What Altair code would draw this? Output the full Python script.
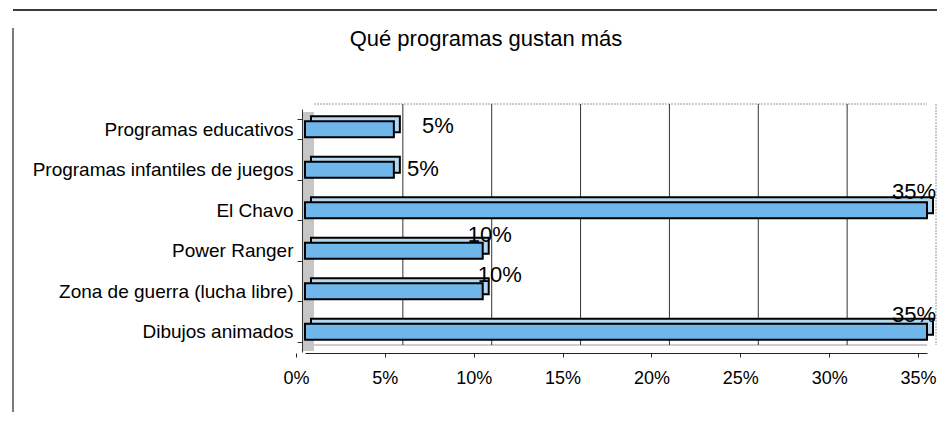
import altair as alt
import pandas as pd

# ---- data ----
categories = [
    "Programas educativos",
    "Programas infantiles de juegos",
    "El Chavo",
    "Power Ranger",
    "Zona de guerra (lucha libre)",
    "Dibujos animados",
]
values = [0.05, 0.05, 0.35, 0.10, 0.10, 0.35]
value_labels = ["5%", "5%", "35%", "10%", "10%", "35%"]
tick_values = [0, 0.05, 0.10, 0.15, 0.20, 0.25, 0.30, 0.35]
grid_values = [0.05, 0.10, 0.15, 0.20, 0.25, 0.30]
title_text = "Qué programas gustan más"

df = pd.DataFrame({"programa": categories, "valor": values, "etiqueta": value_labels})
grid_df = pd.DataFrame({"t": grid_values})
title_df = pd.DataFrame({"titulo": [title_text]})

FONT = "Liberation Sans"
x_scale = alt.Scale(domain=[0, 0.35], nice=False, zero=True)
y_scale = alt.Scale(domain=categories, paddingInner=0.5, paddingOuter=0.25)

base = alt.Chart(df)

# scanned-page frame lines
page_top = alt.Chart(title_df).mark_rule(color="#3a3a3a", strokeWidth=2).encode(
    x=alt.value(-292), x2=alt.value(640), y=alt.value(-99)
)
page_left = alt.Chart(title_df).mark_rule(color="#7a7a7a", strokeWidth=2).encode(
    x=alt.value(-292), y=alt.value(-81), y2=alt.value(303)
)
title_mark = alt.Chart(title_df).mark_text(
    font=FONT, fontSize=22, color="black", align="center", baseline="alphabetic"
).encode(x=alt.value(181), y=alt.value(-63), text="titulo:N")

# 3D walls and floor
left_wall = alt.Chart(title_df).mark_rect(color="#c6c6c6").encode(
    x=alt.value(-2), x2=alt.value(9), y=alt.value(3), y2=alt.value(242)
)
back_top = alt.Chart(title_df).mark_rule(color="#9a9a9a", strokeDash=[2, 1], xOffset=9).encode(
    x=alt.X(datum=0, scale=x_scale, axis=None),
    x2=alt.X2(datum=0.35),
    y=alt.value(-5),
)
back_right = alt.Chart(title_df).mark_rule(color="#9a9a9a", strokeDash=[2, 1], xOffset=9).encode(
    x=alt.X(datum=0.35, scale=x_scale, axis=None),
    y=alt.value(-5),
    y2=alt.value(236),
)
floor_back = alt.Chart(title_df).mark_rule(color="#9a9a9a", xOffset=9).encode(
    x=alt.X(datum=0, scale=x_scale, axis=None),
    x2=alt.X2(datum=0.35),
    y=alt.value(236),
)
grid = alt.Chart(grid_df).mark_rule(color="#333", strokeWidth=1, xOffset=9).encode(
    x=alt.X("t:Q", scale=x_scale, axis=None),
    y=alt.value(-5),
    y2=alt.value(236),
)

y_axis = alt.Axis(
    title=None,
    labelFont=FONT,
    labelFontSize=19,
    labelColor="black",
    labelPadding=4,
    tickBand="extent",
    tickSize=5,
    tickColor="#333",
    tickOffset=4,
    domainColor="#333",
    offset=3,
    labelLimit=400,
    zindex=1,
)
x_axis = alt.Axis(
    title=None,
    values=tick_values,
    format=".0%",
    labelFont=FONT,
    labelFontSize=18,
    labelColor="black",
    labelPadding=12,
    labelFlush=False,
    tickSize=4,
    tickColor="#222",
    tickOffset=-9,
    domainColor="#222",
    offset=1,
    grid=False,
    zindex=1,
)

bar_depth = base.mark_bar(
    size=16, color="#b5d7f0", stroke="black", strokeWidth=2, xOffset=6, yOffset=-5
).encode(
    x=alt.X("valor:Q", scale=x_scale, axis=None),
    y=alt.Y("programa:N", scale=y_scale, sort=categories, axis=None),
)
bars = base.mark_bar(size=16, color="#6fb6ea", stroke="black", strokeWidth=2).encode(
    x=alt.X("valor:Q", scale=x_scale, axis=x_axis),
    y=alt.Y("programa:N", scale=y_scale, sort=categories, axis=y_axis),
)

label_shift = {
    "Programas educativos": (44, -3),
    "Programas infantiles de juegos": (29, -1),
    "El Chavo": (-13, -18),
    "Power Ranger": (7, -16),
    "Zona de guerra (lucha libre)": (17, -16),
    "Dibujos animados": (-13, -17),
}
label_layers = []
for cat in categories:
    dx, dy = label_shift[cat]
    label_layers.append(
        base.transform_filter(alt.datum.programa == cat)
        .mark_text(font=FONT, fontSize=22, color="black", align="center", baseline="middle", dx=dx, dy=dy)
        .encode(
            x=alt.X("valor:Q", scale=x_scale, axis=None),
            y=alt.Y("programa:N", scale=y_scale, sort=categories, axis=None),
            text="etiqueta:N",
        )
    )

chart = alt.layer(
    page_top, page_left, title_mark,
    left_wall, back_top, back_right, floor_back, grid,
    bar_depth, bars, *label_layers
).resolve_axis(x="independent", y="independent").properties(
    width=622,
    height=243,
    padding={"left": 297, "top": 101, "right": 10, "bottom": 60},
    autosize=alt.AutoSizeParams(type="none"),
    background="white",
).configure_view(stroke=None)

chart.save("out.html", embed_options={"renderer": "svg", "actions": False})
